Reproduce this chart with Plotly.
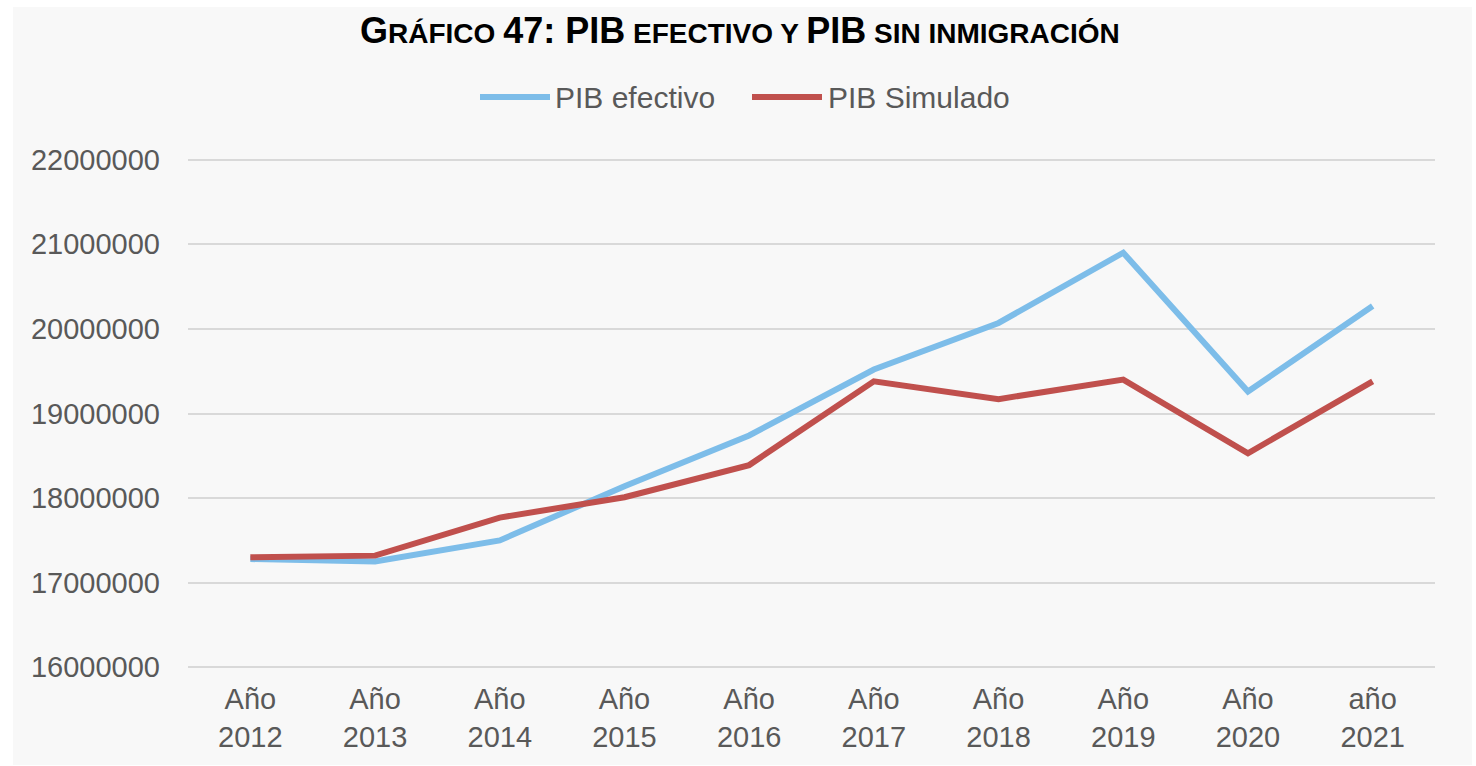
import plotly.graph_objects as go

categories = ["Año<br>2012", "Año<br>2013", "Año<br>2014", "Año<br>2015", "Año<br>2016",
              "Año<br>2017", "Año<br>2018", "Año<br>2019", "Año<br>2020", "año<br>2021"]
series_names = ["PIB efectivo", "PIB Simulado"]
pib_efectivo = [17280000, 17250000, 17500000, 18140000, 18740000,
                19520000, 20070000, 20900000, 19260000, 20270000]
pib_simulado = [17300000, 17320000, 17770000, 18010000, 18390000,
                19380000, 19170000, 19400000, 18530000, 19380000]
y_ticks = [16000000, 17000000, 18000000, 19000000, 20000000, 21000000, 22000000]

W, H = 1476, 766
L, R, T, B = 188, 41, 158, 97
pw, ph = W - L - R, H - T - B

def px(x):
    return (x - L) / pw

def py(y):
    return (H - B - y) / ph

FONT = "Liberation Sans, Arial, sans-serif"
GRAY = "#595959"
COLORS = ["#7dbde9", "#c0504d"]

fig = go.Figure()
for name, vals, col in zip(series_names, [pib_efectivo, pib_simulado], COLORS):
    fig.add_trace(go.Scatter(x=categories, y=vals, mode="lines", name=name,
                             line=dict(color=col, width=6), showlegend=False))

fig.update_layout(
    width=W, height=H,
    margin=dict(l=L, r=R, t=T, b=B, autoexpand=False),
    paper_bgcolor="white",
    plot_bgcolor="#f8f8f8",
    font=dict(family=FONT, color=GRAY, size=29),
    showlegend=False,
    xaxis=dict(range=[-0.5, 9.5], showgrid=False, showline=False, zeroline=False, ticks="",
               tickfont=dict(size=29, color=GRAY), fixedrange=True, ticklabelstandoff=10),
    yaxis=dict(range=[15980000, 22020000], tickvals=y_ticks,
               ticktext=[str(v) for v in y_ticks],
               showgrid=True, gridcolor="#d9d9d9", gridwidth=1.5, zeroline=False,
               showline=False, ticks="", ticklabelstandoff=27, fixedrange=True,
               tickfont=dict(size=29, color=GRAY)),
)

# outer light-gray chart area
fig.add_shape(type="rect", xref="paper", yref="paper", layer="below",
              x0=px(13), x1=px(1472), y0=py(765), y1=py(7),
              fillcolor="#f8f8f8", line=dict(width=0))

# legend (drawn manually to match the long legend keys)
legend_keys = [(480, 550, 553), (752, 822, 826)]
for (x0, x1, xt), name, col in zip(legend_keys, series_names, COLORS):
    fig.add_shape(type="line", xref="paper", yref="paper",
                  x0=px(x0), x1=px(x1), y0=py(97), y1=py(97),
                  line=dict(color=col, width=6))
    fig.add_annotation(text=name, xref="paper", yref="paper", x=px(xt), y=py(97),
                       xanchor="left", yanchor="middle", showarrow=False,
                       font=dict(family=FONT, size=30, color=GRAY))

title = ("<b><span style='font-size:36px'>G</span>RÁFICO "
         "<span style='font-size:36px'>47: PIB</span> EFECTIVO Y "
         "<span style='font-size:36px'>PIB</span> SIN INMIGRACIÓN</b>")
fig.add_annotation(text=title, xref="paper", yref="paper", x=px(740), y=py(30),
                   xanchor="center", yanchor="middle", showarrow=False,
                   font=dict(family=FONT, size=28, color="black"))

fig.write_html("out.html", config={"displayModeBar": False},
               post_script="document.body.style.margin='0px';")
